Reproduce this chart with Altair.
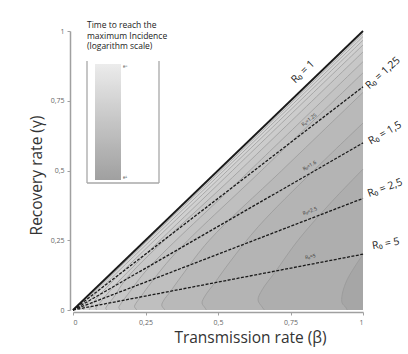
import altair as alt
import pandas as pd

FONT = "Open Sans"

# Axis ticks
tick_values = [0, 0.25, 0.5, 0.75, 1]

# R0 reference lines (gamma = beta / R0)
r0_values = [1.25, 1.67, 2.5, 5]
r0_inner_labels = ["R₀=1.25", "R₀=1.6", "R₀=2.5", "R₀=5"]
r0_inner_angles = [322, 330, 339, 349]

# Outer labels (text, beta, gamma, angle)
outer_labels = ["R₀ = 1", "R₀ = 1,25", "R₀ = 1,5", "R₀ = 2,5", "R₀ = 5"]
outer_beta = [0.793, 1.069, 1.076, 1.076, 1.079]
outer_gamma = [0.853, 0.849, 0.634, 0.437, 0.237]
outer_angle = [316, 318, 330, 340, 350]

# Contour curves of time to peak: gamma, beta, log-time level
curve_gamma = [
    [0, 0.01, 0.025, 0.054, 0.108, 0.2],
    [0, 0.011, 0.036, 0.072, 0.136, 0.25, 0.38, 0.505],
    [0, 0.008, 0.025, 0.05, 0.095, 0.175, 0.3, 0.5, 0.67],
    [0, 0.005, 0.017, 0.035, 0.065, 0.12, 0.25, 0.5, 0.78],
    [0, 0.004, 0.012, 0.024, 0.045, 0.085, 0.2, 0.5, 0.85],
    [0, 0.009, 0.018, 0.034, 0.063, 0.15, 0.5, 0.89],
    [0, 0.006, 0.024, 0.045, 0.12, 0.5, 0.925],
    [0, 0.005, 0.03, 0.1, 0.5, 0.95],
    [0, 0.02, 0.08, 0.5, 0.967],
    [0, 0.015, 0.06, 0.5, 0.98],
    [0, 0.01, 0.05, 0.5, 0.99],
]
curve_beta = [
    [0.945, 0.94, 0.928, 0.928, 0.945, 1.0],
    [0.66, 0.652, 0.638, 0.652, 0.697, 0.776, 0.885, 1.0],
    [0.46, 0.455, 0.445, 0.455, 0.487, 0.543, 0.64, 0.83, 1.0],
    [0.317, 0.313, 0.306, 0.313, 0.335, 0.373, 0.47, 0.72, 1.0],
    [0.22, 0.217, 0.212, 0.217, 0.232, 0.26, 0.35, 0.65, 1.0],
    [0.163, 0.158, 0.162, 0.173, 0.194, 0.26, 0.61, 1.0],
    [0.117, 0.113, 0.124, 0.14, 0.19, 0.575, 1.0],
    [0.082, 0.079, 0.096, 0.155, 0.55, 1.0],
    [0.056, 0.065, 0.115, 0.533, 1.0],
    [0.036, 0.042, 0.08, 0.52, 1.0],
    [0.022, 0.026, 0.06, 0.51, 1.0],
]
curve_level = [1.6, 2.3, 2.9, 3.4, 3.9, 4.3, 4.7, 5.1, 5.5, 5.9, 6.3]
base_level = 6.7

legend_title_lines = ["Time to reach the", "maximum Incidence", "(logarithm scale)"]
legend_values = [1, 8]

x_scale = alt.Scale(domain=[0, 1], nice=False, zero=False)
y_scale = alt.Scale(domain=[0, 1], nice=False, zero=False)
color_scale = alt.Scale(domain=[1, 8], range=["#a0a0a0", "#ececec"])

legend = alt.Legend(
    orient="none", legendX=22, legendY=33, direction="vertical",
    gradientLength=116, gradientThickness=26, title=None,
    values=legend_values,
    labelExpr="datum.value == 8 ? 'e⁸' : 'e¹'",
    labelFontSize=4.5, labelColor="#555", labelOffset=2,
    gradientStrokeWidth=0, padding=0, labelOverlap=False,
)

tick_label_expr = "replace(format(datum.value, '~g'), '.', ',')"

x_axis = alt.Axis(
    values=tick_values, labelExpr=tick_label_expr,
    title="Transmission rate (β)", titleFontSize=15.5, titleFont=FONT,
    titleFontWeight="normal", titleColor="#333", titlePadding=5, titleX=177,
    offset=2, grid=False,
)
y_axis = alt.Axis(
    values=tick_values, labelExpr=tick_label_expr,
    title="Recovery rate (γ)", titleFontSize=15.5, titleFont=FONT,
    titleFontWeight="normal", titleColor="#333", titlePadding=6, titleY=144,
    offset=3, grid=False,
)

layers = []

# Base triangle (below the diagonal)
tri = pd.DataFrame({"g": [0, 1], "b": [0, 1], "v": [base_level, base_level]})
layers.append(
    alt.Chart(tri).mark_area(orient="horizontal").encode(
        y=alt.Y("g:Q", scale=y_scale, axis=y_axis),
        x=alt.X("b:Q", scale=x_scale, axis=x_axis),
        x2=alt.datum(1),
        color=alt.Color("v:Q", scale=color_scale, legend=legend),
    )
)

rows = []
order = sorted(range(len(curve_level)), key=lambda i: -curve_level[i])
for i in order:
    df = pd.DataFrame({"g": curve_gamma[i], "b": curve_beta[i],
                       "v": [curve_level[i]] * len(curve_gamma[i]), "c": i})
    rows.append(df)
    layers.append(
        alt.Chart(df).mark_area(orient="horizontal", interpolate="catmull-rom").encode(
            y=alt.Y("g:Q", scale=y_scale),
            x=alt.X("b:Q", scale=x_scale),
            x2=alt.datum(1),
            color=alt.Color("v:Q", scale=color_scale, legend=legend),
        )
    )

contours = pd.concat(rows)
layers.append(
    alt.Chart(contours).mark_line(interpolate="catmull-rom", color="#979797", strokeWidth=0.7).encode(
        y=alt.Y("g:Q", scale=y_scale),
        x=alt.X("b:Q", scale=x_scale),
        detail="c:N",
        order="g:Q",
    )
)

# R0 = 1 diagonal
diag = pd.DataFrame({"b": [0, 1], "g": [0, 1]})
layers.append(
    alt.Chart(diag).mark_line(color="#1a1a1a", strokeWidth=1.8).encode(
        x=alt.X("b:Q", scale=x_scale), y=alt.Y("g:Q", scale=y_scale)
    )
)

# Dashed R0 lines
dl = []
for k, r in enumerate(r0_values):
    dl.append({"b": 0, "g": 0, "r": k})
    dl.append({"b": 1, "g": 1 / r, "r": k})
dashed = pd.DataFrame(dl)
layers.append(
    alt.Chart(dashed).mark_line(color="#1a1a1a", strokeWidth=1.3, strokeDash=[3, 1.5]).encode(
        x=alt.X("b:Q", scale=x_scale), y=alt.Y("g:Q", scale=y_scale), detail="r:N"
    )
)

# Inner small labels
inner = pd.DataFrame({
    "b": [0.82] * len(r0_values),
    "g": [0.82 / r + 0.018 for r in r0_values],
    "t": r0_inner_labels,
    "a": r0_inner_angles,
})
layers.append(
    alt.Chart(inner).mark_text(font=FONT, fontSize=5, color="#333", baseline="bottom").encode(
        x=alt.X("b:Q", scale=x_scale), y=alt.Y("g:Q", scale=y_scale),
        text="t:N", angle=alt.Angle("a:Q", scale=None),
    )
)

# Outer labels
outer = pd.DataFrame({"b": outer_beta, "g": outer_gamma, "t": outer_labels, "a": outer_angle})
layers.append(
    alt.Chart(outer).mark_text(font=FONT, fontSize=10.5, color="#222").encode(
        x=alt.X("b:Q", scale=x_scale), y=alt.Y("g:Q", scale=y_scale),
        text="t:N", angle=alt.Angle("a:Q", scale=None),
    )
)

# Legend frame (left, right, bottom) and title
frame = pd.DataFrame({"x": [14, 86, 14], "x2": [14, 86, 86], "y": [30, 30, 152], "y2": [152, 152, 152]})
layers.append(
    alt.Chart(frame).mark_rule(color="#a8a8a8", strokeWidth=1.3).encode(
        x=alt.X("x:Q", scale=None), x2="x2:Q", y=alt.Y("y:Q", scale=None), y2="y2:Q"
    )
)
layers.append(
    alt.Chart(pd.DataFrame({"t": [0]})).mark_text(
        font=FONT, fontSize=8.5, color="#222", align="left", baseline="alphabetic", lineHeight=10.5
    ).encode(x=alt.value(14), y=alt.value(-3), text=alt.value(legend_title_lines))
)

chart = alt.layer(*layers).properties(
    width=290, height=279,
    autosize=alt.AutoSizeParams(type="none"),
    padding={"left": 73, "top": 31, "right": 45, "bottom": 44},
).configure_view(stroke=None).configure_axis(
    domainColor="#a0a0a0", domainWidth=1.5, tickColor="#a0a0a0", tickSize=3,
    labelFont=FONT, labelFontSize=7, labelColor="#666", labelPadding=3,
)

chart.save("out.html", embed_options={"renderer": "svg", "actions": False})
